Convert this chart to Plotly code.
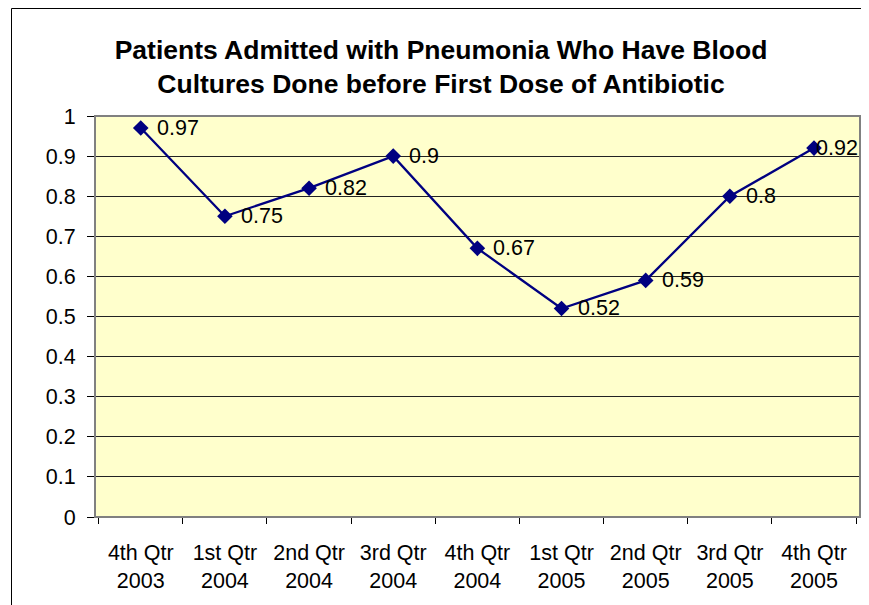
import plotly.graph_objects as go

# quarterly values
quarters = ["4th Qtr<br>2003", "1st Qtr<br>2004", "2nd Qtr<br>2004", "3rd Qtr<br>2004",
            "4th Qtr<br>2004", "1st Qtr<br>2005", "2nd Qtr<br>2005", "3rd Qtr<br>2005",
            "4th Qtr<br>2005"]
rates = [0.97, 0.75, 0.82, 0.9, 0.67, 0.52, 0.59, 0.8, 0.92]
labels = ["0.97", "0.75", "0.82", "0.9", "0.67", "0.52", "0.59", "0.8", "0.92"]

navy = "#000080"
font = "Arial, Liberation Sans, sans-serif"

# page body has an 8px margin; figure runs to the window's right/bottom edge
W, H = 861, 597
L, R, T, B = 87, 9, 108, 88
pw, ph = W - L - R, H - T - B

fig = go.Figure()

fig.add_trace(go.Scatter(
    x=quarters, y=rates,
    mode="lines+markers",
    line=dict(color=navy, width=2.3),
    marker=dict(symbol="diamond", size=12, color=navy),
    cliponaxis=False,
    showlegend=False
))

# data labels to the right of each point (last one squeezed in by the edge)
for i, (q, v, t) in enumerate(zip(quarters, rates, labels)):
    fig.add_annotation(
        x=q, y=v, text=t, showarrow=False,
        xanchor="left", yanchor="middle",
        xshift=0 if i == len(rates) - 1 else 14,
        font=dict(family=font, size=21.5, color="black")
    )

# plot area border (gray) and outer chart border (black)
fig.add_shape(type="rect", xref="paper", yref="paper", x0=0, y0=0, x1=1, y1=1,
              line=dict(color="#808080", width=2), layer="above")
fig.add_shape(type="rect", xref="paper", yref="paper",
              x0=(3.5 - L) / pw, y0=-0.5, x1=1.2, y1=(ph + T - 0.5) / ph,
              line=dict(color="black", width=1), layer="below")

fig.update_layout(
    width=W, height=H,
    margin=dict(l=L, r=R, t=T, b=B),
    paper_bgcolor="white",
    plot_bgcolor="#FFFFCC",
    font=dict(family=font, size=21.5, color="black"),
    title=dict(
        text="Patients Admitted with Pneumonia Who Have Blood<br>Cultures Done before First Dose of Antibiotic",
        font=dict(family=font, size=26.5, color="black", weight="bold"),
        x=433 / W, xanchor="center",
        y=1 - 51 / H, yanchor="middle"
    ),
    xaxis=dict(
        type="category",
        tickson="boundaries",
        ticks="outside", ticklen=6, tickcolor="black",
        showline=True, linecolor="black", linewidth=1,
        showgrid=False, zeroline=False,
        ticklabelstandoff=16,
        tickfont=dict(family=font, size=21.5, color="black")
    ),
    yaxis=dict(
        range=[0, 1], dtick=0.1,
        ticks="outside", ticklen=7, tickcolor="black",
        showline=True, linecolor="black", linewidth=1,
        showgrid=True, gridcolor="#222222", gridwidth=1,
        zeroline=False,
        ticklabelstandoff=7,
        tickfont=dict(family=font, size=21.5, color="black")
    )
)

fig.write_html("out.html")
